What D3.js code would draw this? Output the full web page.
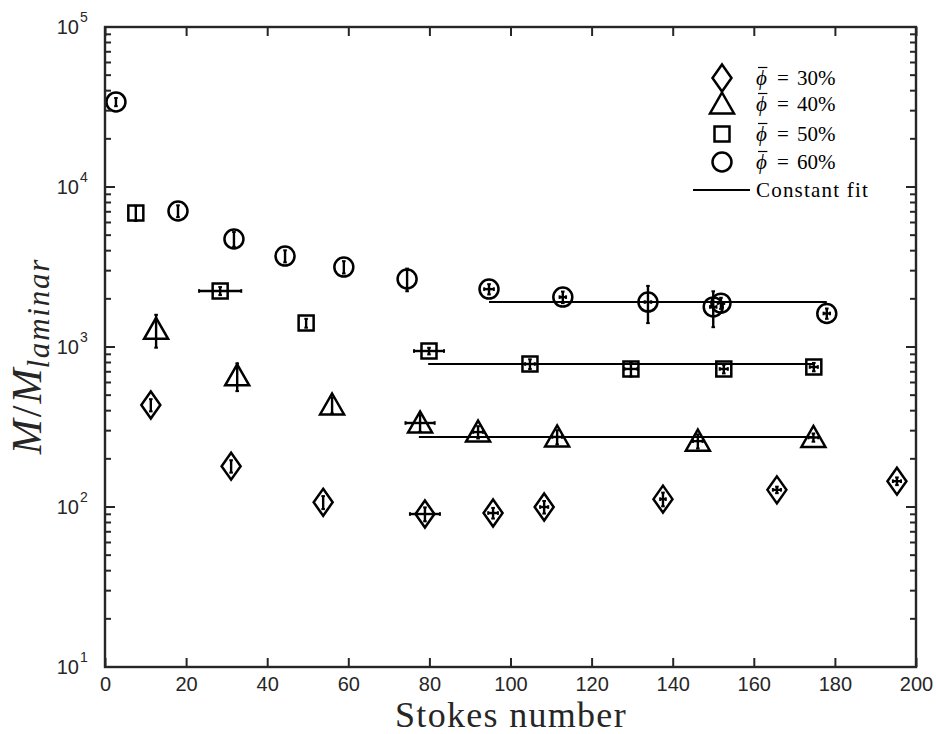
<!DOCTYPE html>
<html><head><meta charset="utf-8">
<script src="https://cdn.jsdelivr.net/npm/d3@7"></script>
<style>body{margin:0;background:#fff}svg{display:block}</style>
</head><body>
<svg id="c" width="936" height="734"></svg>
<script>
// ---- data ----
const xTicks = [0,20,40,60,80,100,120,140,160,180,200];
const yTickExps = [1,2,3,4,5];

// phi = 30% (diamonds)
const st30  = [11.3, 31.1, 53.8, 78.9, 95.7, 108.3, 137.6, 165.7, 195.3];
const val30 = [434, 180, 107, 90.4, 91.7, 100, 112, 128, 145];
const yErr30 = [38, 16, 10, 9, 7, 9, 11, 6, 8];
const xErr30 = [0, 0, 0, 3.7, 1.2, 1.0, 0.7, 1.0, 1.0];

// phi = 40% (triangles)
const st40  = [12.6, 32.6, 56.0, 77.7, 92.0, 111.5, 146.2, 174.7];
const val40 = [1290, 660, 434, 335, 294, 274, 258, 272];
const yErr40 = [300, 130, 50, 40, 26, 28, 26, 16];
const xErr40 = [0, 0, 0, 3.6, 1.2, 1.2, 1.2, 1.2];

// phi = 50% (squares)
const st50  = [7.6, 28.4, 49.6, 79.9, 104.8, 129.7, 152.6, 174.8];
const val50 = [6880, 2240, 1410, 944, 783, 729, 729, 750];
const yErr50 = [750, 130, 90, 45, 55, 75, 45, 45];
const xErr50 = [0, 5.2, 0, 3.7, 1.2, 1.6, 1.0, 1.0];

// phi = 60% (circles)
const st60  = [2.7, 18.0, 31.8, 44.4, 58.9, 74.5, 94.7, 112.9, 133.9, 150.0, 151.9, 178.0];
const val60 = [34000, 7080, 4730, 3700, 3160, 2660, 2300, 2050, 1910, 1780, 1880, 1620];
const yErr60 = [2000, 600, 500, 320, 280, 430, 170, 170, 500, 450, 150, 120];
const xErr60 = [0, 0, 0, 0, 0, 0, 1.2, 0.8, 0.8, 0.8, 0.8, 0.8];

// constant fits [start St, end St, value]
const fitStart = [77.4, 79.7, 94.7];
const fitEnd   = [174.6, 174.6, 178.0];
const fitValue = [274, 783, 1910];

const legendLabels = ["30%", "40%", "50%", "60%"];

// ---- layout ----
const L = 105, R = 916, T = 27, B = 667;
const svg = d3.select("#c");
const x = d3.scaleLinear().domain([0, 200]).range([L, R]);
const y = d3.scaleLog().domain([10, 1e5]).range([B, T]);
const axisCol = "#262626";
const sans = "Liberation Sans, Arial, sans-serif";
const serif = "Liberation Serif, 'DejaVu Serif', serif";

// shapes (relative to marker centre)
const shapes = {
  diamond: "M0,-13.5L9.5,0L0,13.5L-9.5,0Z",
  triangle: "M0,-11.5L12,9.5L-12,9.5Z",
  square: "M-7.5,-7.5H7.5V7.5H-7.5Z",
  circle: "M9.5,0A9.5,9.5 0 1,1 -9.5,0A9.5,9.5 0 1,1 9.5,0Z"
};

const series = [
  {st: st30, v: val30, ye: yErr30, xe: xErr30, shape: "diamond"},
  {st: st40, v: val40, ye: yErr40, xe: xErr40, shape: "triangle"},
  {st: st50, v: val50, ye: yErr50, xe: xErr50, shape: "square"},
  {st: st60, v: val60, ye: yErr60, xe: xErr60, shape: "circle"}
];

const plot = svg.append("g");

// fit lines
fitStart.forEach((s, i) => {
  plot.append("line")
    .attr("x1", x(s)).attr("x2", x(fitEnd[i]))
    .attr("y1", y(fitValue[i])).attr("y2", y(fitValue[i]))
    .attr("stroke", "#000").attr("stroke-width", 2);
});

// markers and error bars
series.forEach(s => {
  s.st.forEach((st, i) => {
    const cx = x(st), cy = y(s.v[i]);
    const g = plot.append("g");
    g.append("path").attr("d", shapes[s.shape])
      .attr("transform", `translate(${cx},${cy})`)
      .attr("fill", "none").attr("stroke", "#000").attr("stroke-width", 2.5)
      .attr("stroke-linejoin", "miter");
    const ye = s.ye[i], xe = s.xe[i];
    if (ye > 0) {
      const y1 = y(s.v[i] - ye), y2 = y(s.v[i] + ye);
      g.append("line").attr("x1", cx).attr("x2", cx).attr("y1", y1).attr("y2", y2)
        .attr("stroke", "#000").attr("stroke-width", 2.4);
      [y1, y2].forEach(yy => g.append("line").attr("x1", cx - 1.8).attr("x2", cx + 1.8)
        .attr("y1", yy).attr("y2", yy).attr("stroke", "#000").attr("stroke-width", 2));
    }
    if (xe > 0) {
      const x1 = x(st - xe), x2 = x(st + xe);
      g.append("line").attr("x1", x1).attr("x2", x2).attr("y1", cy).attr("y2", cy)
        .attr("stroke", "#000").attr("stroke-width", 2.4);
      [x1, x2].forEach(xx => g.append("line").attr("x1", xx).attr("x2", xx)
        .attr("y1", cy - 1.8).attr("y2", cy + 1.8).attr("stroke", "#000").attr("stroke-width", 2));
    }
  });
});

// ---- axes ----
const ax = svg.append("g");
// x ticks (bottom and top, inward)
ax.append("g").attr("transform", `translate(0,${B})`)
  .call(d3.axisBottom(x).tickValues(xTicks).tickSizeInner(-9).tickSizeOuter(0).tickPadding(10).tickFormat(d3.format("d")))
  .call(g => { g.select(".domain").remove();
    g.selectAll("line").attr("stroke", axisCol).attr("stroke-width", 2);
    g.selectAll("text").attr("font-family", sans).attr("font-size", 20).attr("fill", axisCol); });
ax.append("g").attr("transform", `translate(0,${T})`)
  .call(d3.axisTop(x).tickValues(xTicks).tickSizeInner(-9).tickSizeOuter(0).tickFormat(""))
  .call(g => { g.select(".domain").remove();
    g.selectAll("line").attr("stroke", axisCol).attr("stroke-width", 2); });

// y ticks: majors and minors, left and right
const majors = yTickExps.map(e => Math.pow(10, e));
const minors = [];
yTickExps.slice(0, -1).forEach(e => { for (let k = 2; k <= 9; k++) minors.push(k * Math.pow(10, e)); });
[[L, 1], [R, -1]].forEach(([x0, dir]) => {
  majors.forEach(v => ax.append("line").attr("x1", x0).attr("x2", x0 + dir * 10)
    .attr("y1", y(v)).attr("y2", y(v)).attr("stroke", axisCol).attr("stroke-width", 2));
  minors.forEach(v => ax.append("line").attr("x1", x0).attr("x2", x0 + dir * 6)
    .attr("y1", y(v)).attr("y2", y(v)).attr("stroke", axisCol).attr("stroke-width", 2));
});
// y tick labels 10^n
yTickExps.forEach(e => {
  ax.append("text").attr("x", 79).attr("y", y(Math.pow(10, e)) + 7)
    .attr("text-anchor", "end").attr("font-family", sans)
    .attr("font-size", 20).attr("fill", axisCol).text("10");
  ax.append("text").attr("x", 80).attr("y", y(Math.pow(10, e)) - 5)
    .attr("font-family", sans)
    .attr("font-size", 14).attr("fill", axisCol).text(String(e));
});
// frame
ax.append("rect").attr("x", L).attr("y", T).attr("width", R - L).attr("height", B - T)
  .attr("fill", "none").attr("stroke", axisCol).attr("stroke-width", 2.4);

// axis labels
svg.append("text").attr("x", 511).attr("y", 727).attr("text-anchor", "middle")
  .attr("font-family", serif).attr("font-size", 36).attr("letter-spacing", 1.3)
  .attr("fill", axisCol).text("Stokes number");
const yl = svg.append("text").attr("transform", `translate(41,356) rotate(-90)`)
  .attr("text-anchor", "middle").attr("font-family", serif)
  .attr("font-style", "italic").attr("font-size", 42).attr("fill", axisCol);
yl.append("tspan").text("M");
yl.append("tspan").attr("font-style", "normal").attr("dx", 2).text("/");
yl.append("tspan").attr("dx", 2).text("M");
yl.append("tspan").attr("font-size", 31).attr("letter-spacing", 1.8).attr("dy", 8).text("laminar");

// ---- legend ----
const leg = svg.append("g");
const legY = [78, 104, 134, 162];
const legShapes = ["diamond", "triangle", "square", "circle"];
legendLabels.forEach((lab, i) => {
  leg.append("path").attr("d", shapes[legShapes[i]])
    .attr("transform", `translate(722,${legY[i]})`)
    .attr("fill", "none").attr("stroke", "#000").attr("stroke-width", 2.5);
  const phi = leg.append("text").attr("x", 756).attr("y", legY[i] + 7)
    .attr("font-family", serif).attr("font-style", "italic")
    .attr("font-size", 21).attr("fill", "#000").text("ϕ");
  const w = phi.node().getComputedTextLength();
  leg.append("line").attr("x1", 758).attr("x2", 756 + w + 0.5)
    .attr("y1", legY[i] - 10.5).attr("y2", legY[i] - 10.5)
    .attr("stroke", "#000").attr("stroke-width", 1.2);
  leg.append("text").attr("x", 777).attr("y", legY[i] + 7)
    .attr("font-family", serif).attr("font-size", 21).attr("fill", "#000")
    .text("=");
  leg.append("text").attr("x", 797).attr("y", legY[i] + 7)
    .attr("font-family", serif).attr("font-size", 21).attr("fill", "#000")
    .text(lab);
});
leg.append("line").attr("x1", 693).attr("x2", 750).attr("y1", 190).attr("y2", 190)
  .attr("stroke", "#000").attr("stroke-width", 2);
leg.append("text").attr("x", 756).attr("y", 197)
  .attr("font-family", serif).attr("font-size", 21).attr("letter-spacing", 1.2).attr("fill", "#000")
  .text("Constant fit");
</script>
</body></html>
